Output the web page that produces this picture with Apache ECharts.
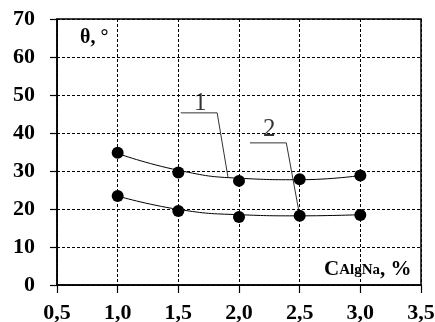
<!DOCTYPE html>
<html><head><meta charset="utf-8">
<script src="https://cdn.jsdelivr.net/npm/echarts@6/dist/echarts.min.js"></script>
<style>html,body{margin:0;padding:0;background:#fff}#c{width:435px;height:322px}</style>
</head><body><div id="c"></div>
<script>
var xValues = [1.0, 1.5, 2.0, 2.5, 3.0];
var points1 = [34.8, 29.6, 27.4, 27.8, 28.8];
var points2 = [23.4, 19.5, 17.9, 18.2, 18.4];
var trend1 = [34.6, 30.2, 28.1, 27.7, 28.8];
var trend2 = [23.4, 19.9, 18.5, 18.2, 18.5];
var leader1 = [[1.52, 45.3], [1.82, 45.3], [1.91, 28.2]];
var leader2 = [[2.09, 37.4], [2.39, 37.4], [2.49, 20.0]];
var curveLabels = [[1.68, 47.7, '1'], [2.25, 41.0, '2']];
var yTicks = {min: 0, max: 70, interval: 10};
var xTicks = {min: 0.5, max: 3.5, interval: 0.5};

function pairs(xs, ys) { return xs.map(function (x, i) { return [x, ys[i]]; }); }
var serif = '"Liberation Serif", "Times New Roman", serif';
var chart = echarts.init(document.getElementById('c'), null, {renderer: 'canvas'});
chart.setOption({
  animation: false,
  backgroundColor: '#fff',
  grid: {left: 57, right: 14, top: 19, bottom: 37, outerBoundsMode: 'none', containLabel: false,
    show: true, borderColor: '#000', borderWidth: 1.5, backgroundColor: 'transparent'},
  xAxis: {
    type: 'value', min: xTicks.min, max: xTicks.max, interval: xTicks.interval,
    axisLine: {lineStyle: {color: '#000', width: 1.5}},
    axisTick: {show: true, inside: false, length: 8, lineStyle: {color: '#000', width: 1.2}},
    axisLabel: {margin: 17, color: '#000', fontFamily: serif, fontWeight: 'bold', fontSize: 22,
      formatter: function (v) { return v.toFixed(1).replace('.', ','); }},
    splitLine: {show: true, lineStyle: {color: '#000', type: [3, 2], width: 1}}
  },
  yAxis: {
    type: 'value', min: yTicks.min, max: yTicks.max, interval: yTicks.interval,
    axisLine: {show: true, lineStyle: {color: '#000', width: 1.5}},
    axisTick: {show: true, inside: false, length: 7, lineStyle: {color: '#000', width: 1.2}},
    axisLabel: {margin: 22, color: '#000', fontFamily: serif, fontWeight: 'bold', fontSize: 22},
    splitLine: {show: true, lineStyle: {color: '#000', type: [3, 2], width: 1}}
  },
  series: [
    {type: 'line', data: pairs(xValues, trend1), smooth: 0.5, showSymbol: false, lineStyle: {color: '#000', width: 1}, z: 2},
    {type: 'line', data: pairs(xValues, trend2), smooth: 0.5, showSymbol: false, lineStyle: {color: '#000', width: 1}, z: 2},
    {type: 'scatter', data: pairs(xValues, points1), symbol: 'circle', symbolSize: 12, itemStyle: {color: '#000', opacity: 1}, z: 3},
    {type: 'scatter', data: pairs(xValues, points2), symbol: 'circle', symbolSize: 12, itemStyle: {color: '#000', opacity: 1}, z: 3},
    {type: 'line', data: leader1, showSymbol: false, lineStyle: {color: '#333', width: 1}, z: 2},
    {type: 'line', data: leader2, showSymbol: false, lineStyle: {color: '#333', width: 1}, z: 2},
    {type: 'scatter', data: curveLabels, symbolSize: 0, z: 4,
      label: {show: true, position: 'inside', color: '#000', fontFamily: serif, fontSize: 25,
        formatter: function (p) { return p.value[2]; }}}
  ],
  graphic: [
    {type: 'text', left: 80, top: 28, style: {text: 'θ, °', fill: '#000', font: 'bold 20px ' + serif}},
    {type: 'text', left: 324, top: 259, style: {
      text: '{a|C}{b|AlgNa}{a|, %}',
      rich: {
        a: {fontFamily: serif, fontWeight: 'bold', fontSize: 21, lineHeight: 22, fill: '#000', verticalAlign: 'bottom'},
        b: {fontFamily: serif, fontWeight: 'bold', fontSize: 15, lineHeight: 22, fill: '#000', verticalAlign: 'bottom', padding: [0, 0, 2, 0]}
      }}}
  ]
});
</script></body></html>
